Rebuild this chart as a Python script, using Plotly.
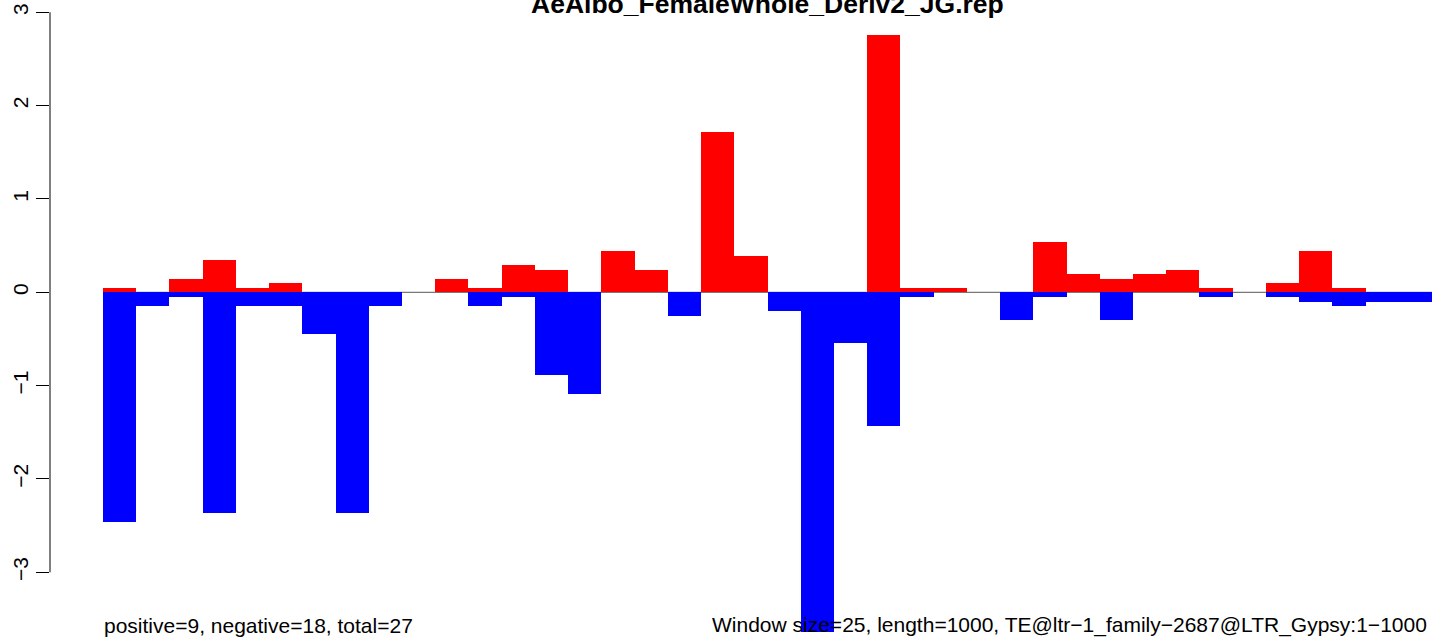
import plotly.graph_objects as go

# ---- data ----
windows = list(range(40))  # 40 windows of size 25 across length 1000
positive_vals = [0.043, 0, 0.14, 0.344, 0.043, 0.097, 0, 0, 0, 0,
                 0.14, 0.043, 0.29, 0.237, 0, 0.444, 0.237, 0, 1.718, 0.387,
                 0, 0, 0, 2.760, 0.043, 0.043, 0, 0, 0.538, 0.194,
                 0.14, 0.194, 0.237, 0.043, 0, 0.097, 0.441, 0.043, 0, 0]
negative_vals = [-2.461, -0.147, -0.054, -2.361, -0.147, -0.147, -0.448, -2.361, -0.147, 0,
                 0, -0.147, -0.054, -0.883, -1.086, 0, 0, -0.254, 0, 0,
                 -0.204, -3.637, -0.540, -1.429, -0.05, 0, 0, -0.297, -0.05, 0,
                 -0.297, 0, 0, -0.05, 0, -0.05, -0.104, -0.147, -0.104, -0.104]
y_ticks = [-3, -2, -1, 0, 1, 2, 3]
title_text = "AeAlbo_FemaleWhole_Deriv2_JG.rep"
left_note = "positive=9, negative=18, total=27"
right_note = "Window size=25, length=1000, TE@ltr\u22121_family\u22122687@LTR_Gypsy:1\u22121000"

FONT = "Liberation Sans, Arial, Helvetica, sans-serif"

fig = go.Figure()
fig.add_trace(go.Bar(x=windows, y=positive_vals, width=1.0,
                     marker=dict(color="#FF0000", line=dict(width=0)),
                     showlegend=False, hoverinfo="skip"))
fig.add_trace(go.Bar(x=windows, y=negative_vals, width=1.0,
                     marker=dict(color="#0000FF", line=dict(width=0)),
                     showlegend=False, hoverinfo="skip"))

# zero reference line (under bars)
fig.add_shape(type="line", xref="x", yref="y", x0=-0.5, x1=len(windows) - 0.5,
              y0=0, y1=0, line=dict(color="#555555", width=1), layer="below")
# R-style axis line spanning only the tick range
fig.add_shape(type="line", xref="paper", yref="y", x0=0, x1=0,
              y0=min(y_ticks), y1=max(y_ticks), line=dict(color="black", width=1))

fig.add_annotation(text="<b>" + title_text + "</b>", xref="paper", yref="paper",
                   x=(767 - 50) / 1394, y=1, xanchor="center", yanchor="top",
                   yshift=13, showarrow=False,
                   font=dict(family=FONT, size=26.5, color="black"))
fig.add_annotation(text=left_note, xref="x", yref="paper", x=-0.5, y=0,
                   xanchor="left", yanchor="bottom", xshift=-1, yshift=0,
                   showarrow=False, font=dict(family=FONT, size=21, color="black"))
fig.add_annotation(text=right_note, xref="x", yref="paper", x=39.5, y=0,
                   xanchor="right", yanchor="bottom", xshift=-3, yshift=0,
                   showarrow=False, font=dict(family=FONT, size=21, color="black"))

fig.update_layout(
    width=1444, height=639,
    margin=dict(l=50, r=0, t=0, b=0, autoexpand=False),
    paper_bgcolor="white", plot_bgcolor="white",
    barmode="overlay", bargap=0,
    font=dict(family=FONT, size=21, color="black"),
    xaxis=dict(range=[-2.095, 39.861], visible=False, showgrid=False, zeroline=False,
               automargin=False),
    yaxis=dict(range=[-3.715, 3.132], tickvals=y_ticks, ticktext=[str(v).replace("-", "\u2212") for v in y_ticks],
               ticks="outside", ticklen=13, tickwidth=1, tickcolor="black",
               tickangle=-90, showline=False, showgrid=False, zeroline=False,
               automargin=False,
               tickfont=dict(family=FONT, size=21, color="black")),
)

fig.write_html("out.html", config={"displayModeBar": False},
               post_script="document.body.style.margin='0';document.body.style.overflow='hidden';")
